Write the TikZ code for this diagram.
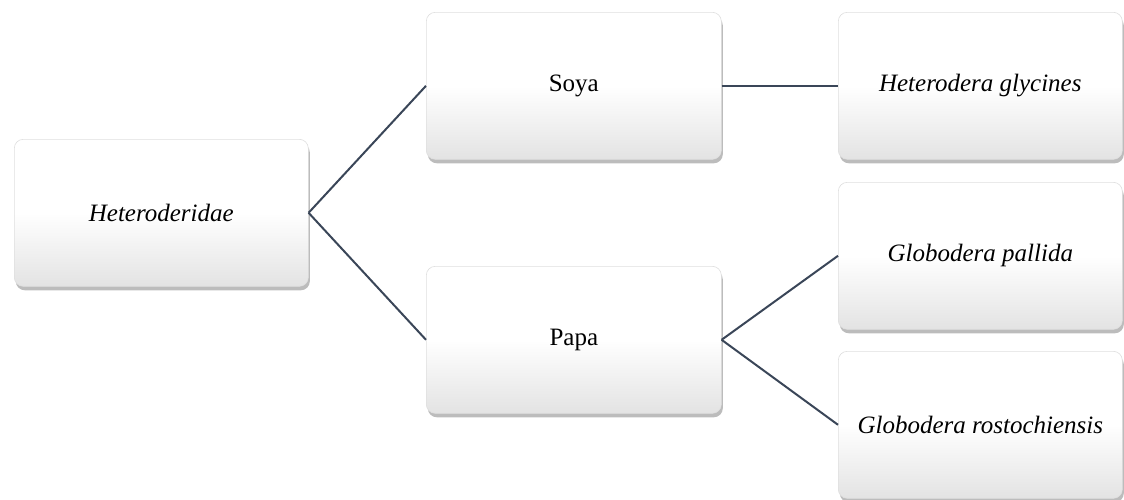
\documentclass[tikz,border=0pt]{standalone}
\usepackage{fontspec}
\setmainfont{Liberation Serif}
\usetikzlibrary{shadows,calc}
\begin{document}
\begin{tikzpicture}[x=1pt,y=-1pt,
  card/.style={rounded corners=9pt, draw=gray!25, line width=0.6pt,
    top color=white, bottom color=gray!22, middle color=white,
    drop shadow={shadow xshift=1.5pt, shadow yshift=-4pt, fill=gray!70, opacity=0.75},
    minimum height=147pt, inner sep=0pt, anchor=north west,
    font=\fontsize{25}{30}\selectfont},
  link/.style={draw=black!60!blue!40!gray, line width=2pt}]
  \useasboundingbox (0,0) rectangle (1124,499);
  \definecolor{linkc}{HTML}{3A4658}
  % boxes
  \node[card, minimum width=294pt] (root) at (14,139) {\itshape Heteroderidae};
  \node[card, minimum width=295pt] (soya) at (426,12) {Soya};
  \node[card, minimum width=295pt] (papa) at (426,266) {Papa};
  \node[card, minimum width=284pt] (hg) at (838,12) {\itshape Heterodera glycines};
  \node[card, minimum width=284pt] (gp) at (838,182) {\itshape Globodera pallida};
  \node[card, minimum width=284pt] (gr) at (838,351) {\itshape Globodera rostochiensis};
  % connectors
  \begin{scope}[draw=linkc, line width=2pt]
    \draw (root.east) -- (soya.west);
    \draw (root.east) -- (papa.west);
    \draw (soya.east) -- (hg.west);
    \draw (papa.east) -- (gp.west);
    \draw (papa.east) -- (gr.west);
  \end{scope}
\end{tikzpicture}
\end{document}
